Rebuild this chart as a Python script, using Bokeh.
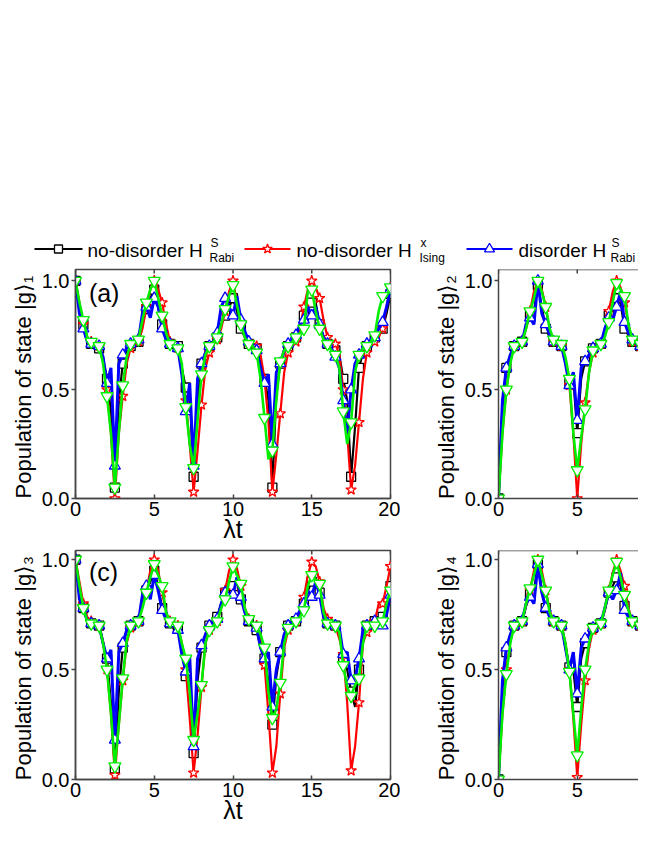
import math
from bokeh.plotting import figure
from bokeh.models import Range1d, FixedTicker, PrintfTickFormatter, Label, Span
from bokeh.layouts import column, row
from bokeh.embed import file_html
from bokeh.resources import INLINE
from bokeh.core.properties import value

# ---------------- data ----------------
T_FULL = [0.0, 0.25, 0.5, 0.75, 1.0, 1.25, 1.5, 1.75, 2.0, 2.25, 2.5, 2.75, 3.0, 3.25, 3.5, 3.75,
          4.0, 4.25, 4.5, 4.75, 5.0, 5.25, 5.5, 5.75, 6.0, 6.25, 6.5, 6.75, 7.0, 7.25, 7.5, 7.75,
          8.0, 8.25, 8.5, 8.75, 9.0, 9.25, 9.5, 9.75, 10.0, 10.25, 10.5, 10.75, 11.0, 11.25, 11.5,
          11.75, 12.0, 12.25, 12.5, 12.75, 13.0, 13.25, 13.5, 13.75, 14.0, 14.25, 14.5, 14.75, 15.0,
          15.25, 15.5, 15.75, 16.0, 16.25, 16.5, 16.75, 17.0, 17.25, 17.5, 17.75, 18.0, 18.25, 18.5,
          18.75, 19.0, 19.25, 19.5, 19.75, 20.0]
T_PART = [0.0, 0.25, 0.5, 0.75, 1.0, 1.25, 1.5, 1.75, 2.0, 2.25, 2.5, 2.75, 3.0, 3.25, 3.5, 3.75,
          4.0, 4.25, 4.5, 4.75, 5.0, 5.25, 5.5, 5.75, 6.0, 6.25, 6.5, 6.75, 7.0, 7.25, 7.5, 7.75,
          8.0, 8.25, 8.5, 8.75, 9.0, 9.25, 9.5]

X_TICKS = [0, 5, 10, 15, 20]
Y_TICKS = [0.0, 0.5, 1.0]

SERIES_NAMES = ["no-disorder H", "no-disorder H", "disorder H"]
SERIES_SUP = ["S", "x", "S"]
SERIES_SUB = ["Rabi", "Ising", "Rabi"]

# panel (a): |g>_1
A_BLACK = [1.0, 0.88, 0.80, 0.74, 0.71, 0.70, 0.69, 0.64, 0.55, 0.40, 0.05, 0.45, 0.62, 0.68, 0.70, 0.71, 0.72, 0.80, 0.87, 0.92,
           0.96, 0.88, 0.80, 0.74, 0.71, 0.70, 0.70, 0.60, 0.51, 0.48, 0.10, 0.45, 0.62, 0.67, 0.70, 0.72, 0.74, 0.80, 0.84, 0.88,
           0.92, 0.86, 0.78, 0.74, 0.71, 0.70, 0.69, 0.62, 0.55, 0.45, 0.05, 0.48, 0.62, 0.67, 0.70, 0.72, 0.74, 0.78, 0.84, 0.88,
           0.90, 0.90, 0.80, 0.74, 0.71, 0.70, 0.68, 0.66, 0.55, 0.45, 0.10, 0.33, 0.60, 0.67, 0.70, 0.72, 0.74, 0.75, 0.78, 0.85, 0.94]
A_RED = [1.0, 0.90, 0.80, 0.74, 0.72, 0.71, 0.70, 0.65, 0.50, 0.30, 0.00, 0.30, 0.47, 0.62, 0.69, 0.71, 0.72, 0.78, 0.88, 0.96,
         1.0, 0.96, 0.90, 0.80, 0.72, 0.70, 0.69, 0.58, 0.45, 0.25, 0.03, 0.22, 0.43, 0.60, 0.67, 0.71, 0.73, 0.78, 0.86, 0.95,
         1.0, 0.90, 0.81, 0.75, 0.72, 0.71, 0.70, 0.66, 0.55, 0.35, 0.03, 0.20, 0.39, 0.58, 0.67, 0.70, 0.72, 0.78, 0.88, 0.96,
         1.0, 0.97, 0.92, 0.82, 0.74, 0.72, 0.71, 0.66, 0.50, 0.30, 0.04, 0.15, 0.35, 0.55, 0.67, 0.70, 0.72, 0.74, 0.78, 0.88, 0.97]
A_BLUE = [1.0, 0.85, 0.78, 0.72, 0.71, 0.71, 0.70, 0.65, 0.53, 0.60, 0.15, 0.62, 0.66, 0.69, 0.71, 0.72, 0.73, 0.85, 0.88, 0.83,
          0.92, 0.88, 0.78, 0.73, 0.71, 0.70, 0.69, 0.57, 0.40, 0.53, 0.15, 0.55, 0.62, 0.67, 0.70, 0.72, 0.76, 0.88, 0.92, 0.88,
          0.84, 0.93, 0.82, 0.77, 0.72, 0.70, 0.68, 0.60, 0.53, 0.57, 0.25, 0.58, 0.62, 0.68, 0.71, 0.73, 0.75, 0.80, 0.82, 0.88,
          0.84, 0.88, 0.80, 0.74, 0.71, 0.69, 0.65, 0.60, 0.45, 0.30, 0.50, 0.62, 0.66, 0.69, 0.71, 0.72, 0.74, 0.78, 0.81, 0.88, 0.96]
A_GREEN = [1.0, 0.90, 0.82, 0.74, 0.72, 0.71, 0.70, 0.62, 0.47, 0.30, 0.05, 0.30, 0.52, 0.65, 0.71, 0.72, 0.73, 0.82, 0.90, 0.96,
           1.0, 0.92, 0.84, 0.76, 0.71, 0.70, 0.69, 0.62, 0.42, 0.25, 0.14, 0.36, 0.57, 0.66, 0.70, 0.72, 0.74, 0.80, 0.87, 0.93,
           0.98, 0.89, 0.80, 0.74, 0.71, 0.70, 0.67, 0.55, 0.37, 0.18, 0.22, 0.45, 0.63, 0.68, 0.70, 0.72, 0.74, 0.76, 0.78, 0.95,
           0.96, 0.86, 0.78, 0.73, 0.71, 0.68, 0.66, 0.60, 0.40, 0.25, 0.35, 0.58, 0.66, 0.69, 0.70, 0.72, 0.75, 0.86, 0.93, 0.93, 0.97]

# panel (c): |g>_3
C_BLACK = [1.0, 0.86, 0.78, 0.72, 0.71, 0.70, 0.70, 0.62, 0.55, 0.35, 0.05, 0.40, 0.60, 0.68, 0.70, 0.71, 0.72, 0.80, 0.86, 0.90,
           0.95, 0.88, 0.78, 0.73, 0.71, 0.70, 0.69, 0.60, 0.47, 0.50, 0.12, 0.45, 0.60, 0.66, 0.70, 0.72, 0.74, 0.80, 0.85, 0.86,
           0.88, 0.88, 0.82, 0.77, 0.72, 0.70, 0.68, 0.60, 0.55, 0.45, 0.25, 0.47, 0.58, 0.66, 0.70, 0.71, 0.72, 0.76, 0.80, 0.86,
           0.90, 0.90, 0.85, 0.75, 0.71, 0.70, 0.70, 0.68, 0.55, 0.50, 0.40, 0.33, 0.50, 0.66, 0.70, 0.71, 0.72, 0.73, 0.74, 0.78, 0.88]
C_RED = [1.0, 0.90, 0.80, 0.74, 0.72, 0.71, 0.70, 0.63, 0.50, 0.30, 0.02, 0.25, 0.45, 0.62, 0.69, 0.71, 0.72, 0.80, 0.86, 0.95,
         1.0, 0.95, 0.85, 0.76, 0.72, 0.71, 0.70, 0.62, 0.50, 0.28, 0.03, 0.20, 0.42, 0.62, 0.68, 0.70, 0.72, 0.78, 0.86, 0.95,
         1.0, 0.96, 0.88, 0.78, 0.73, 0.71, 0.70, 0.63, 0.52, 0.30, 0.03, 0.15, 0.39, 0.60, 0.68, 0.70, 0.72, 0.75, 0.83, 0.93,
         0.99, 0.97, 0.90, 0.78, 0.73, 0.71, 0.70, 0.64, 0.57, 0.35, 0.04, 0.15, 0.35, 0.62, 0.67, 0.70, 0.72, 0.80, 0.80, 0.88, 0.97]
C_BLUE = [1.0, 0.82, 0.78, 0.72, 0.71, 0.71, 0.70, 0.62, 0.55, 0.59, 0.18, 0.58, 0.62, 0.68, 0.70, 0.71, 0.72, 0.84, 0.88, 0.82,
          0.93, 0.86, 0.77, 0.73, 0.71, 0.70, 0.68, 0.57, 0.49, 0.56, 0.15, 0.55, 0.61, 0.66, 0.70, 0.72, 0.73, 0.80, 0.85, 0.84,
          0.84, 0.92, 0.83, 0.76, 0.72, 0.71, 0.69, 0.60, 0.55, 0.58, 0.33, 0.50, 0.58, 0.66, 0.70, 0.71, 0.73, 0.77, 0.80, 0.86,
          0.83, 0.90, 0.84, 0.74, 0.71, 0.70, 0.70, 0.69, 0.57, 0.58, 0.45, 0.46, 0.55, 0.68, 0.70, 0.71, 0.72, 0.70, 0.70, 0.75, 0.84]
C_GREEN = [1.0, 0.88, 0.78, 0.72, 0.71, 0.71, 0.70, 0.62, 0.50, 0.30, 0.06, 0.25, 0.46, 0.63, 0.70, 0.71, 0.72, 0.78, 0.85, 0.92,
           0.98, 0.93, 0.88, 0.76, 0.72, 0.71, 0.70, 0.62, 0.55, 0.40, 0.18, 0.30, 0.43, 0.62, 0.68, 0.70, 0.72, 0.78, 0.82, 0.90,
           0.97, 0.93, 0.89, 0.78, 0.73, 0.71, 0.70, 0.66, 0.60, 0.40, 0.28, 0.32, 0.44, 0.62, 0.69, 0.70, 0.72, 0.74, 0.77, 0.88,
           0.93, 0.91, 0.89, 0.76, 0.71, 0.71, 0.70, 0.67, 0.52, 0.42, 0.38, 0.43, 0.46, 0.62, 0.70, 0.70, 0.70, 0.71, 0.72, 0.80, 0.86]

# panel (b): |g>_2 (visible part)
B_BLACK = [0.0, 0.42, 0.60, 0.66, 0.70, 0.71, 0.72, 0.79, 0.84, 0.86, 0.98, 0.88, 0.78, 0.74, 0.72, 0.71, 0.70, 0.63, 0.53, 0.55,
           0.30, 0.55, 0.63, 0.66, 0.69, 0.70, 0.71, 0.77, 0.84, 0.86, 0.92, 0.90, 0.78, 0.75, 0.72, 0.71, 0.70, 0.63, 0.55]
B_RED = [0.0, 0.30, 0.50, 0.63, 0.70, 0.71, 0.72, 0.78, 0.86, 0.95, 1.0, 0.96, 0.88, 0.77, 0.72, 0.71, 0.70, 0.64, 0.52, 0.30,
         0.0, 0.25, 0.44, 0.58, 0.67, 0.70, 0.71, 0.76, 0.86, 0.95, 1.0, 0.97, 0.90, 0.80, 0.72, 0.71, 0.70, 0.62, 0.54]
B_BLUE = [0.0, 0.45, 0.60, 0.66, 0.70, 0.71, 0.72, 0.80, 0.83, 0.80, 1.0, 0.85, 0.80, 0.75, 0.72, 0.71, 0.70, 0.62, 0.52, 0.58,
          0.36, 0.60, 0.63, 0.66, 0.69, 0.70, 0.71, 0.78, 0.83, 0.82, 0.88, 0.95, 0.81, 0.76, 0.73, 0.71, 0.70, 0.66, 0.60]
B_GREEN = [0.0, 0.30, 0.50, 0.62, 0.70, 0.71, 0.72, 0.78, 0.86, 0.92, 1.0, 0.95, 0.88, 0.78, 0.73, 0.72, 0.71, 0.65, 0.55, 0.30,
           0.13, 0.28, 0.41, 0.58, 0.68, 0.70, 0.71, 0.74, 0.81, 0.90, 0.99, 0.96, 0.93, 0.80, 0.73, 0.72, 0.71, 0.66, 0.56]

# panel (d): |g>_4 (visible part)
D_BLACK = [0.0, 0.42, 0.58, 0.66, 0.70, 0.71, 0.72, 0.79, 0.84, 0.86, 0.98, 0.86, 0.78, 0.74, 0.72, 0.71, 0.70, 0.60, 0.51, 0.50,
           0.33, 0.55, 0.62, 0.66, 0.69, 0.70, 0.71, 0.77, 0.85, 0.88, 0.92, 0.88, 0.79, 0.75, 0.72, 0.71, 0.70, 0.62, 0.54]
D_RED = [0.0, 0.30, 0.50, 0.63, 0.70, 0.71, 0.72, 0.79, 0.86, 0.95, 1.0, 0.95, 0.86, 0.77, 0.72, 0.71, 0.70, 0.62, 0.50, 0.28,
         0.01, 0.25, 0.45, 0.60, 0.68, 0.70, 0.71, 0.77, 0.86, 0.94, 1.0, 0.95, 0.88, 0.78, 0.72, 0.71, 0.70, 0.62, 0.54]
D_BLUE = [0.0, 0.45, 0.60, 0.66, 0.70, 0.71, 0.72, 0.80, 0.83, 0.80, 0.98, 0.85, 0.78, 0.74, 0.72, 0.71, 0.70, 0.60, 0.50, 0.58,
          0.39, 0.60, 0.64, 0.66, 0.69, 0.70, 0.71, 0.78, 0.85, 0.82, 0.86, 0.94, 0.77, 0.74, 0.72, 0.71, 0.70, 0.62, 0.52]
D_GREEN = [0.0, 0.30, 0.48, 0.62, 0.70, 0.71, 0.72, 0.80, 0.87, 0.93, 1.0, 0.93, 0.86, 0.76, 0.72, 0.71, 0.70, 0.62, 0.49, 0.30,
           0.11, 0.32, 0.50, 0.62, 0.69, 0.70, 0.71, 0.78, 0.86, 0.93, 0.99, 0.92, 0.84, 0.77, 0.72, 0.71, 0.70, 0.62, 0.52]

for arr in (A_BLACK, A_RED, A_BLUE, A_GREEN, C_BLACK, C_RED, C_BLUE, C_GREEN):
    assert len(arr) == len(T_FULL), len(arr)
for arr in (B_BLACK, B_RED, B_BLUE, B_GREEN, D_BLACK, D_RED, D_BLUE, D_GREEN):
    assert len(arr) == len(T_PART), len(arr)

# ---------------- style ----------------
FONT = "Liberation Sans"
FRAME = "#454545"
STYLES = [  # color, marker, marker size, line width
    ("#000000", "square", 9, 2.2),
    ("#ff0000", "star", 11, 2.2),
    ("#0000ff", "triangle", 11, 3.0),
    ("#00ee00", "inverted_triangle", 12, 2.6),
]


def make_panel(width, height, b_left, b_right, b_top, b_bottom, xmax, ymax,
               t, series, ylabel, xlabel, tag, full_box):
    p = figure(width=width, height=height, x_range=Range1d(0, xmax), y_range=Range1d(0, ymax),
               output_backend="svg", toolbar_location=None,
               min_border_left=b_left, min_border_right=b_right,
               min_border_top=b_top, min_border_bottom=b_bottom,
               background_fill_color="white", border_fill_color="white")
    p.grid.visible = False
    if full_box:
        p.outline_line_color = FRAME
        p.outline_line_width = 1.5
    else:
        p.outline_line_color = None
        p.add_layout(Span(location=ymax, dimension="width", line_color=FRAME, line_width=1.5))

    for ax in (p.xaxis[0], p.yaxis[0]):
        ax.axis_line_color = FRAME
        ax.axis_line_width = 1.5
        ax.major_tick_line_color = FRAME
        ax.major_tick_line_width = 1.5
        ax.minor_tick_line_color = None
        ax.major_label_text_font = FONT
        ax.major_label_text_font_size = "20px"
        ax.major_label_text_color = "black"
        ax.axis_label_text_font = FONT
        ax.axis_label_text_font_style = "normal"
        ax.axis_label_text_color = "black"

    xa = p.xaxis[0]
    xa.ticker = FixedTicker(ticks=X_TICKS)
    xa.major_tick_in = 4
    xa.major_tick_out = 0
    xa.major_label_standoff = 3
    if xlabel:
        xa.axis_label = xlabel
        xa.axis_label_text_font_size = "25px"
        xa.axis_label_standoff = -4

    ya = p.yaxis[0]
    ya.ticker = FixedTicker(ticks=Y_TICKS)
    ya.formatter = PrintfTickFormatter(format="%.1f")
    ya.major_tick_in = 0
    ya.major_tick_out = 4
    ya.major_label_standoff = 2
    ya.axis_label = ylabel
    ya.axis_label_text_font_size = "22px"
    ya.axis_label_standoff = 3

    # inward ticks along the top edge (half of each dash is clipped by the frame)
    p.scatter([x for x in X_TICKS if x <= xmax], [ymax] * len([x for x in X_TICKS if x <= xmax]),
              marker="dash", angle=math.pi / 2, size=8, line_color=FRAME, line_width=1.5)

    for (color, marker, msize, lw), vals in zip(STYLES, series):
        p.line(t, vals, line_color=color, line_width=lw)
        p.scatter(t[::2], vals[::2], marker=marker, size=msize, line_color=color,
                  fill_color="white", line_width=1.3)

    if tag:
        p.add_layout(Label(x=0.85, y=0.945, text=tag, text_font=FONT, text_font_size="25px",
                           text_baseline="middle", text_align="left", text_color="black"))
    return p


TOTAL_W = 638
LEG_H = 268
ROW_H = 281

pa = make_panel(400, ROW_H, 75, 10, 1, 51, 20, 1.052, T_FULL,
                [A_BLACK, A_RED, A_BLUE, A_GREEN], "Population of state  |g\u27e9\u2081", "\u03bbt", "(a)", True)
pb = make_panel(TOTAL_W - 400, ROW_H, 98, 0, 1, 51, (TOTAL_W - 400 - 98) / 15.75, 1.052, T_PART,
                [B_BLACK, B_RED, B_BLUE, B_GREEN], "Population of state  |g\u27e9\u2082", None, None, False)
pc = make_panel(400, ROW_H, 75, 10, 1, 51, 20, 1.042, T_FULL,
                [C_BLACK, C_RED, C_BLUE, C_GREEN], "Population of state  |g\u27e9\u2083", "\u03bbt", "(c)", True)
pd = make_panel(TOTAL_W - 400, ROW_H, 98, 0, 1, 51, (TOTAL_W - 400 - 98) / 15.75, 1.042, T_PART,
                [D_BLACK, D_RED, D_BLUE, D_GREEN], "Population of state  |g\u27e9\u2084", None, None, False)

# ---------------- legend (drawn manually for sub/superscripts) ----------------
lf = figure(width=TOTAL_W, height=LEG_H, x_range=Range1d(0, TOTAL_W), y_range=Range1d(0, LEG_H),
            output_backend="svg", toolbar_location=None, min_border=0,
            x_axis_location=None, y_axis_location=None, outline_line_color=None)
lf.grid.visible = False

LEG_POS = [  # line x0, x1, text x, script x  (legend layout in pixels)
    (34, 82, 87, 209),
    (244, 290, 296, 419),
    (466, 512, 518, 610),
]
LY = 19.5
for (color, marker, msize, lw), name, sup, sub, (x0, x1, tx, sx) in zip(
        STYLES, SERIES_NAMES, SERIES_SUP, SERIES_SUB, LEG_POS):
    lf.line([x0, x1], [LY, LY], line_color=color, line_width=2)
    lf.scatter([(x0 + x1) / 2], [LY], marker=marker, size=msize - 1, line_color=color,
               fill_color="white", line_width=1.3)
    lf.text(x=[tx], y=[17.7], text=[name], text_font=value(FONT), text_font_size="19px",
            text_baseline="middle", text_align="left", text_color="black")
    lf.text(x=[sx + 1], y=[25.5], text=[sup], text_font=value(FONT), text_font_size="12px",
            text_baseline="middle", text_align="left", text_color="black")
    lf.text(x=[sx], y=[10.5], text=[sub], text_font=value(FONT), text_font_size="12px",
            text_baseline="middle", text_align="left", text_color="black")

layout = column(lf, row(pa, pb), row(pc, pd))
open("out.html", "w").write(file_html(layout, INLINE))
